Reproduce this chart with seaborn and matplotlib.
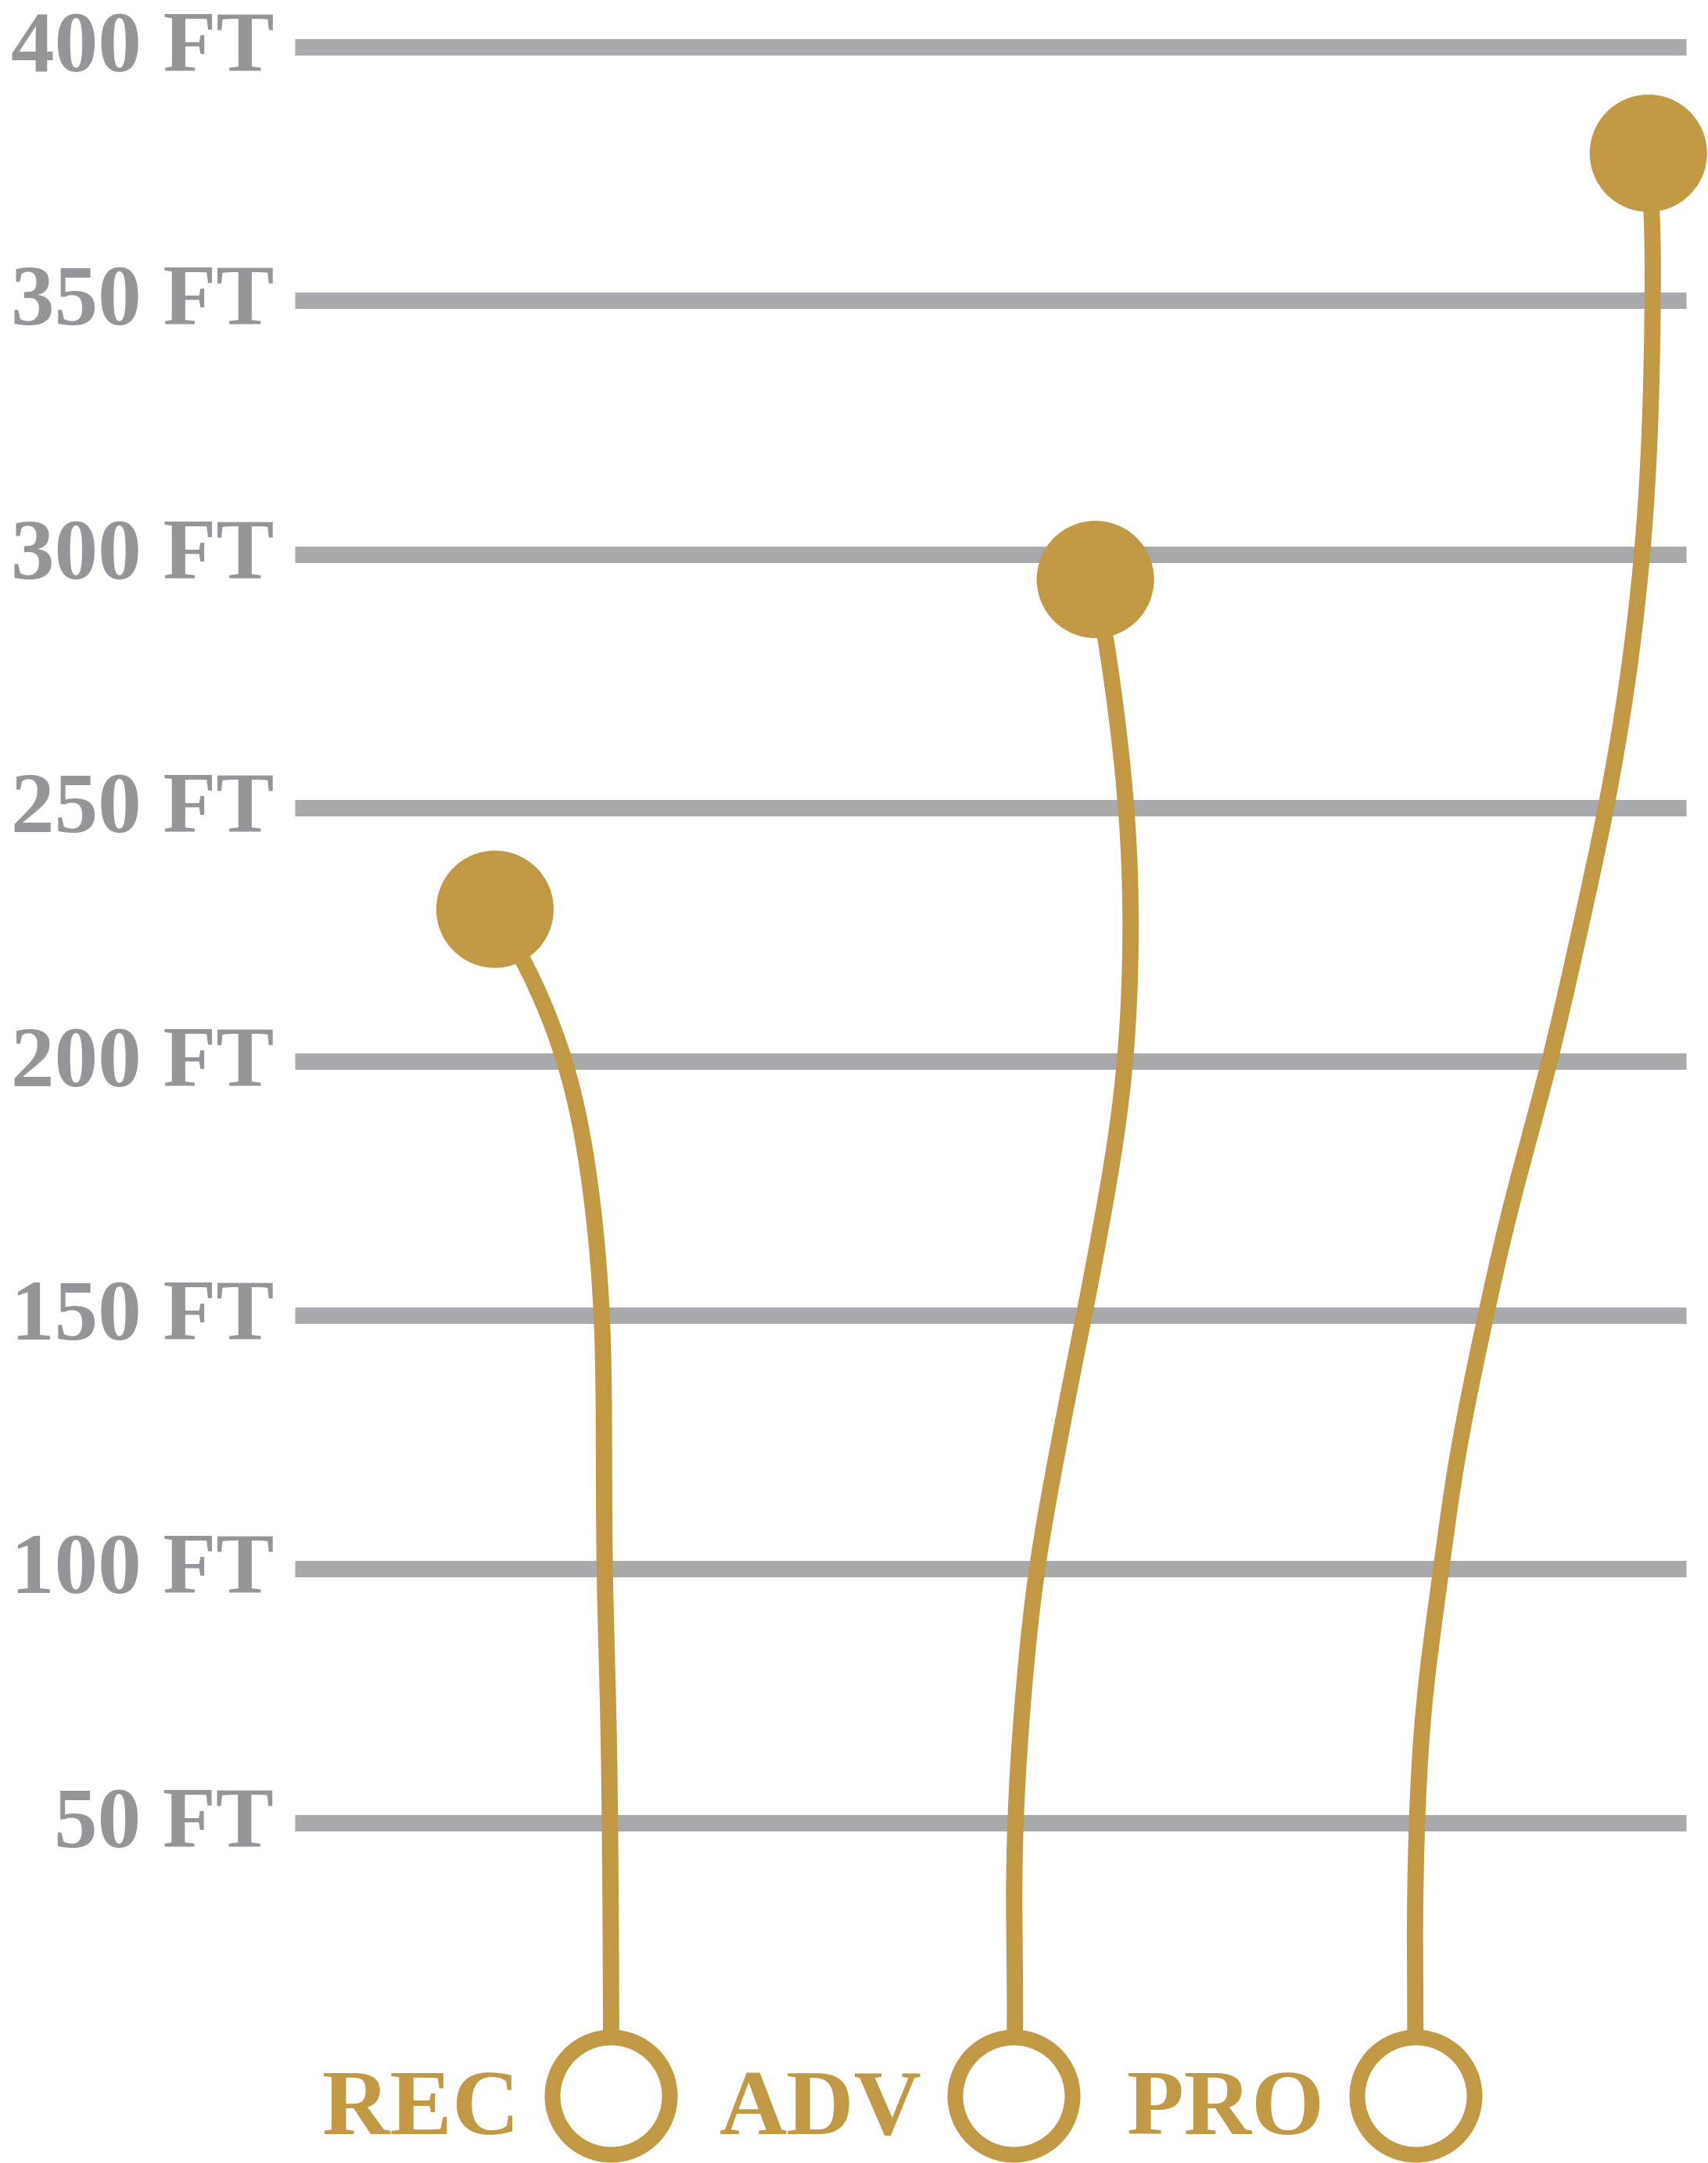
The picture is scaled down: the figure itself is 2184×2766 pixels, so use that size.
import numpy as np
import pandas as pd
import matplotlib
matplotlib.use("Agg")
import matplotlib.pyplot as plt
import seaborn as sns

# ---------------- data ----------------
levels = ["REC", "ADV", "PRO"]
level_pos = [0, 1, 2]                 # category positions of the base rings
max_height_ft = [230, 295, 379]       # peak heights
peak_x = [-0.289, 1.204, 2.579]       # horizontal placement of the peak dots
base_ft = -3.8                        # height of base rings

grid_ft = [50, 100, 150, 200, 250, 300, 350, 400]
grid_labels = ["50 FT", "100 FT", "150 FT", "200 FT", "250 FT", "300 FT", "350 FT", "400 FT"]

# flight-path waypoints (x in category units, height in ft), base -> peak
rec_path_x = [0.0, -0.003, -0.007, -0.017, -0.018, -0.022, -0.055, -0.110, -0.217]
rec_path_ft = [9.4, 50.1, 72.0, 101.1, 130.1, 150.6, 178.2, 199.9, 220.4]
adv_path_x = [1.006, 1.001, 1.004, 1.021, 1.057, 1.099, 1.131, 1.177, 1.216, 1.248, 1.280,
              1.293, 1.283, 1.231]
adv_path_ft = [10.0, 31.2, 49.6, 71.8, 100.0, 118.6, 132.4, 150.0, 166.8, 180.5, 200.3,
               225.2, 249.3, 283.4]
pro_path_x = [2.0, 1.998, 2.003, 2.019, 2.066, 2.097, 2.130, 2.175, 2.224, 2.270, 2.334,
              2.421, 2.473, 2.525, 2.564, 2.583, 2.590, 2.590]
pro_path_ft = [9.4, 29.7, 49.9, 72.7, 101.0, 119.5, 133.2, 150.0, 167.6, 181.3, 199.9,
               230.3, 249.4, 273.3, 299.6, 323.5, 349.7, 367.6]

# ---------------- style ----------------
GOLD = "#c19843"
GRID = "#a7a9ac"
LABEL = "#939598"
FONT = ["Liberation Serif", "DejaVu Serif"]

sns.set_theme(style="white")
plt.rcParams["font.family"] = FONT

W, H, DPI = 2184, 2766, 100
fig = plt.figure(figsize=(W / DPI, H / DPI), dpi=DPI)
ax = fig.add_axes([0, 0, 1, 1])
XL = (-1.5197, 2.7273)
YL = (-17.1, 409.2)
ax.set_xlim(*XL)
ax.set_ylim(*YL)
ax.axis("off")

sx = W / (XL[1] - XL[0])
sy = H / (YL[1] - YL[0])


def smooth(xs, ys, n=40, sigma_px=60.0, step_px=2.0):
    P = np.column_stack([np.asarray(xs) * sx, np.asarray(ys) * sy])
    P = np.vstack([2 * P[0] - P[1], P, 2 * P[-1] - P[-2]])
    out = []
    for i in range(len(P) - 3):
        p0, p1, p2, p3 = P[i], P[i + 1], P[i + 2], P[i + 3]
        t0 = 0.0
        t1 = t0 + max(np.linalg.norm(p1 - p0), 1e-6) ** 0.5
        t2 = t1 + max(np.linalg.norm(p2 - p1), 1e-6) ** 0.5
        t3 = t2 + max(np.linalg.norm(p3 - p2), 1e-6) ** 0.5
        t = np.linspace(t1, t2, n)[:, None]
        A1 = (t1 - t) / (t1 - t0) * p0 + (t - t0) / (t1 - t0) * p1
        A2 = (t2 - t) / (t2 - t1) * p1 + (t - t1) / (t2 - t1) * p2
        A3 = (t3 - t) / (t3 - t2) * p2 + (t - t2) / (t3 - t2) * p3
        B1 = (t2 - t) / (t2 - t0) * A1 + (t - t0) / (t2 - t0) * A2
        B2 = (t3 - t) / (t3 - t1) * A2 + (t - t1) / (t3 - t1) * A3
        C = (t2 - t) / (t2 - t1) * B1 + (t - t1) / (t2 - t1) * B2
        out.append(C)
    C = np.vstack(out)
    # resample by arc length
    seg = np.linalg.norm(np.diff(C, axis=0), axis=1)
    s = np.concatenate([[0], np.cumsum(seg)])
    su = np.arange(0, s[-1], step_px)
    su = np.append(su, s[-1])
    R = np.column_stack([np.interp(su, s, C[:, 0]), np.interp(su, s, C[:, 1])])
    # gaussian smoothing with point-reflection padding (keeps end points)
    m = int(4 * sigma_px / step_px)
    front = 2 * R[0] - R[1:m + 1][::-1]
    back = 2 * R[-1] - R[-m - 1:-1][::-1]
    Rp = np.vstack([front, R, back])
    k = np.arange(-m, m + 1) * step_px
    g = np.exp(-0.5 * (k / sigma_px) ** 2)
    g /= g.sum()
    Sx = np.convolve(Rp[:, 0], g, mode="valid")
    Sy = np.convolve(Rp[:, 1], g, mode="valid")
    return Sx / sx, Sy / sy


# gridlines
ax.hlines(grid_ft, -0.7866, 2.673, colors=GRID, linewidth=15.1, capstyle="butt", zorder=1)
for ft, lab in zip(grid_ft, grid_labels):
    ax.text(-0.839, ft - 4.8, lab, ha="right", va="baseline", fontsize=80,
            fontweight="bold", color=LABEL, zorder=5)

# flight paths
paths = [(rec_path_x, rec_path_ft), (adv_path_x, adv_path_ft), (pro_path_x, pro_path_ft)]
for i, (px, pf) in enumerate(paths):
    xs = [level_pos[i]] + list(px) + [peak_x[i]]
    ys = [base_ft] + list(pf) + [max_height_ft[i]]
    cx, cy = smooth(xs, ys)
    df = pd.DataFrame({"x": cx, "y": cy})
    sns.lineplot(data=df, x="x", y="y", sort=False, estimator=None, color=GOLD,
                 linewidth=15.0, solid_capstyle="butt", solid_joinstyle="round",
                 ax=ax, legend=False, zorder=2)

# base rings and peak dots
sns.scatterplot(x=level_pos, y=[base_ft] * 3, s=108 ** 2, facecolor="white",
                edgecolor=GOLD, linewidth=14.4, ax=ax, legend=False, zorder=4)
sns.scatterplot(x=peak_x, y=max_height_ft, s=108 ** 2, color=GOLD, edgecolor="none",
                ax=ax, legend=False, zorder=4)

# level labels
for pos, lab in zip(level_pos, levels):
    ax.text(pos - 0.228, base_ft - 7.6, lab, ha="right", va="baseline", fontsize=86,
            fontweight="bold", color=GOLD, zorder=5)

ax.set_xlim(*XL)
ax.set_ylim(*YL)
fig.savefig("out.png", dpi=DPI, facecolor="white")
